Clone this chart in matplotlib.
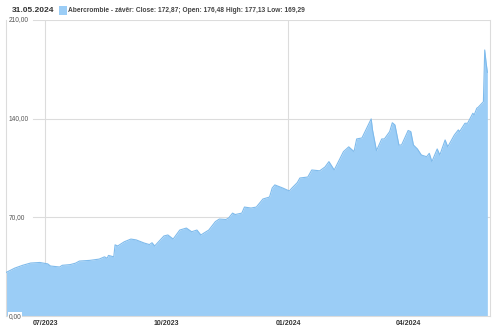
import pandas as pd
import matplotlib
matplotlib.use("Agg")
import matplotlib.pyplot as plt
from matplotlib.patches import Rectangle

plt.rcParams['font.family'] = ['Liberation Sans', 'DejaVu Sans']

# close prices
dates = [
    "2023-06-01", "2023-06-08", "2023-06-14", "2023-06-20", "2023-06-27", "2023-07-03",
    "2023-07-05", "2023-07-12", "2023-07-14", "2023-07-20", "2023-07-24", "2023-07-27",
    "2023-08-04", "2023-08-11", "2023-08-15", "2023-08-17", "2023-08-18", "2023-08-22",
    "2023-08-23", "2023-08-25", "2023-08-30", "2023-09-04", "2023-09-08", "2023-09-14",
    "2023-09-18", "2023-09-20", "2023-09-22", "2023-09-29", "2023-10-02", "2023-10-06",
    "2023-10-11", "2023-10-16", "2023-10-20", "2023-10-24", "2023-10-27", "2023-11-02",
    "2023-11-07", "2023-11-10", "2023-11-15", "2023-11-17", "2023-11-20", "2023-11-22",
    "2023-11-27", "2023-11-29", "2023-12-04", "2023-12-08", "2023-12-13", "2023-12-18",
    "2023-12-20", "2023-12-22", "2023-12-28", "2024-01-02", "2024-01-04", "2024-01-08",
    "2024-01-10", "2024-01-16", "2024-01-19", "2024-01-25", "2024-01-29", "2024-02-01",
    "2024-02-05", "2024-02-12", "2024-02-16", "2024-02-20", "2024-02-22", "2024-02-26",
    "2024-03-04", "2024-03-05", "2024-03-08", "2024-03-12", "2024-03-14", "2024-03-18",
    "2024-03-20", "2024-03-22", "2024-03-25", "2024-03-27", "2024-04-01", "2024-04-03",
    "2024-04-05", "2024-04-08", "2024-04-11", "2024-04-15", "2024-04-17", "2024-04-19",
    "2024-04-23", "2024-04-25", "2024-04-29", "2024-05-01", "2024-05-06", "2024-05-07",
    "2024-05-09", "2024-05-10", "2024-05-14", "2024-05-16", "2024-05-20", "2024-05-21",
    "2024-05-23", "2024-05-24", "2024-05-28", "2024-05-29", "2024-05-30", "2024-05-31",
]
close = [
    30.7, 34.0, 36.0, 37.6, 38.0, 37.0,
    35.5, 34.8, 36.0, 36.5, 37.5, 39.0,
    39.5, 40.4, 42.0, 41.0, 43.0, 42.0,
    50.5, 49.7, 52.7, 54.6, 54.0, 51.8,
    50.7, 52.0, 49.7, 56.8, 57.5, 54.6,
    61.0, 62.4, 59.8, 61.0, 57.5, 61.0,
    67.0, 68.8, 68.5, 69.5, 73.0, 72.0,
    73.0, 77.3, 76.6, 77.3, 83.0, 84.4,
    90.8, 93.0, 90.8, 88.7, 90.8, 94.6,
    97.9, 98.6, 103.6, 103.0, 105.7, 109.5,
    103.6, 116.6, 120.0, 116.6, 125.6, 126.3,
    139.8, 132.0, 117.3, 125.6, 125.6, 130.8,
    137.1, 135.5, 121.3, 121.3, 131.6, 130.8,
    121.3, 118.5, 114.2, 113.0, 115.4, 109.5,
    118.5, 114.2, 124.9, 120.0, 128.4, 129.6,
    132.0, 130.8, 136.7, 136.7, 143.8, 142.6,
    147.4, 148.0, 152.0, 188.7, 180.0, 172.87,
]
ytick_vals = [0, 70, 140, 210]
ytick_text = ["0,00", "70,00", "140,00", "210,00"]
xtick_dates = ["2023-07-01", "2023-10-01", "2024-01-01", "2024-04-01"]
xtick_text = ["07/2023", "10/2023", "01/2024", "04/2024"]
vgrid_dates = ["2023-07-01", "2024-01-01"]

header_date = "31.05.2024"
legend_text = "Abercrombie - závěr: Close: 172,87; Open: 176,48 High: 177,13 Low: 169,29"

x = pd.to_datetime(dates)
fill_c = "#9bcdf6"
edge_c = "#7fbbec"
grid_c = "#dcdcdc"

fig = plt.figure(figsize=(5, 3.32), dpi=100)
ax = fig.add_axes([0.011, 0.048, 0.969, 0.892])

ax.fill_between(x, close, 0, color=fill_c, lw=0, zorder=2)
ax.plot(x, close, color=edge_c, lw=0.8, zorder=3)

ax.set_ylim(0, 210)
ax.set_xlim(pd.Timestamp("2023-06-01"), pd.Timestamp("2024-06-02"))

for v in ytick_vals[1:]:
    ax.axhline(v, xmin=0.056, xmax=1, color=grid_c, lw=0.8, zorder=1)
for d in vgrid_dates:
    ax.axvline(pd.Timestamp(d), color=grid_c, lw=0.8, zorder=1)

for v, t in zip(ytick_vals, ytick_text):
    ax.text(0.006, v, t, transform=ax.get_yaxis_transform(), ha="left", va="center",
            fontsize=4.8, color="#555555", zorder=5,
            bbox=dict(facecolor="white", edgecolor="none", pad=0.6))

ax.set_yticks([])
ax.set_xticks(pd.to_datetime(xtick_dates))
ax.set_xticklabels(xtick_text, fontsize=5, fontweight="bold", color="#333333")
ax.tick_params(axis="x", length=0, pad=3)

ax.spines["top"].set_visible(False)
for s in ["left", "right", "bottom"]:
    ax.spines[s].set_color(grid_c)
    ax.spines[s].set_linewidth(0.8)

fig.text(0.024, 0.969, header_date, fontsize=6, fontweight="bold", color="#333333",
         ha="left", va="center")
fig.patches.append(Rectangle((0.118, 0.955), 0.016, 0.027, transform=fig.transFigure,
                             facecolor=fill_c, edgecolor="none"))
fig.text(0.137, 0.969, legend_text, fontsize=4.75, fontweight="bold", color="#444444",
         ha="left", va="center")

fig.savefig("out.png", dpi=100, facecolor="white")
